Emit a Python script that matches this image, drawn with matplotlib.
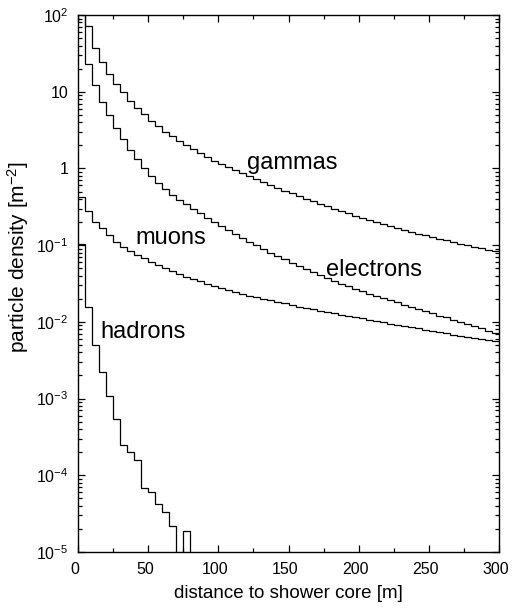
import numpy as np
import matplotlib
matplotlib.use("Agg")
import matplotlib.pyplot as plt
from matplotlib.ticker import LogLocator, MultipleLocator, NullFormatter
from matplotlib.transforms import ScaledTranslation

# ------------------ DATA ------------------

bin_edges = np.arange(0, 301, 5)   # distance to shower core [m]

gammas = [300, 71, 37.2, 24.5, 17.0, 12.6, 9.8, 7.6, 6.2, 5.1,
          4.2, 3.55, 3.0, 2.63, 2.29, 2.0, 1.78, 1.58, 1.41, 1.26,
          1.15, 1.05, 0.955, 0.87, 0.79, 0.72, 0.66, 0.61, 0.556, 0.513,
          0.473, 0.437, 0.403, 0.372, 0.347, 0.32, 0.30, 0.279, 0.26, 0.243,
          0.226, 0.214, 0.20, 0.188, 0.178, 0.168, 0.158, 0.15, 0.141, 0.135,
          0.127, 0.12, 0.115, 0.11, 0.105, 0.10, 0.0955, 0.091, 0.087, 0.083]

electrons = [200, 22.9, 12.4, 7.4, 5.0, 3.4, 2.45, 1.74, 1.32, 1.02,
             0.79, 0.645, 0.537, 0.447, 0.389, 0.339, 0.295, 0.26, 0.229, 0.202,
             0.178, 0.158, 0.14, 0.124, 0.111, 0.10, 0.089, 0.080, 0.0724, 0.0653,
             0.0589, 0.0537, 0.049, 0.0447, 0.0407, 0.0372, 0.0343, 0.0316, 0.0292, 0.0269,
             0.0251, 0.0234, 0.0219, 0.0204, 0.0191, 0.0179, 0.0167, 0.0157, 0.0147, 0.0138,
             0.0129, 0.0121, 0.0114, 0.0107, 0.0100, 0.0094, 0.0088, 0.0082, 0.0077, 0.0072]

muons = [0.427, 0.282, 0.202, 0.166, 0.135, 0.111, 0.0955, 0.0841, 0.0741, 0.0676,
         0.061, 0.055, 0.050, 0.0457, 0.0422, 0.0389, 0.0363, 0.0339, 0.0316, 0.0295,
         0.0275, 0.026, 0.0245, 0.0232, 0.0219, 0.0209, 0.020, 0.0191, 0.0182, 0.0174,
         0.0166, 0.0158, 0.0151, 0.0145, 0.0138, 0.0133, 0.0129, 0.0124, 0.012, 0.0115,
         0.0111, 0.0107, 0.0104, 0.0099, 0.0095, 0.0091, 0.0088, 0.0085, 0.0082, 0.0079,
         0.0076, 0.0073, 0.0071, 0.0068, 0.0066, 0.0064, 0.0062, 0.006, 0.0058, 0.0056]

hadrons = [0.105, 0.0155, 0.005, 0.0022, 0.00108, 0.00054, 0.000248, 0.000204, 0.000158, 6.8e-5,
           6.1e-5, 4.2e-5, 3.35e-5, 2.2e-5, 0, 1.86e-5] + [0] * 44

labels = ["gammas", "electrons", "muons", "hadrons"]
label_x = [152.5, 210.6, 65.9, 46.6]
label_y = [0.98, 0.0395, 0.102, 0.0061]

xticks = [0, 50, 100, 150, 200, 250, 300]
yticks = [1e2, 1e1, 1, 1e-1, 1e-2, 1e-3, 1e-4, 1e-5]
ytick_labels = [r"10$^{2}$", "10", "1", r"10$^{-1}$", r"10$^{-2}$",
                r"10$^{-3}$", r"10$^{-4}$", r"10$^{-5}$"]

# ------------------ STYLE ------------------

plt.rcParams["font.family"] = ["Liberation Sans", "DejaVu Sans"]
plt.rcParams["mathtext.fontset"] = "custom"
plt.rcParams["mathtext.rm"] = "Liberation Sans"
plt.rcParams["mathtext.it"] = "Liberation Sans:italic"
plt.rcParams["mathtext.default"] = "regular"

fig = plt.figure(figsize=(5.14, 6.08), dpi=100)
ax = fig.add_axes([78 / 514, 1 - 552 / 608, 421 / 514, 537 / 608])

# ------------------ CURVES ------------------

for series in (gammas, electrons, muons):
    ax.stairs(series, bin_edges, baseline=None, color="black", lw=0.9)

h = np.array(hadrons, dtype=float)
h = np.where(h > 0, h, 1e-9)   # empty bins drop below the axis
ax.stairs(h, bin_edges, baseline=None, color="black", lw=0.9)

for txt, x, y in zip(labels, label_x, label_y):
    ax.text(x, y, txt, ha="center", va="baseline", fontsize=17)

# ------------------ AXES ------------------

ax.set_yscale("log")
ax.set_xlim(0, 300)
ax.set_ylim(1e-5, 1e2)

ax.set_xticks(xticks)
ax.set_xticklabels([str(t) for t in xticks])
ax.xaxis.set_minor_locator(MultipleLocator(25))
ax.set_yticks(yticks)
ax.set_yticklabels(ytick_labels)
ax.yaxis.set_minor_locator(LogLocator(base=10, subs=np.arange(2, 10), numticks=20))
ax.yaxis.set_minor_formatter(NullFormatter())

ax.tick_params(which="both", direction="in", top=True, right=True,
               labelsize=11.5, pad=7, width=0.9)
ax.tick_params(which="major", length=5)
ax.tick_params(which="minor", length=3)
for sp in ax.spines.values():
    sp.set_linewidth(1.0)

# x tick labels sit a little left of their ticks in the original
shift = ScaledTranslation(-3 / 100, 0, fig.dpi_scale_trans)
for lab in ax.get_xticklabels():
    lab.set_transform(lab.get_transform() + shift)

ax.set_xlabel("distance to shower core [m]", fontsize=13.5, labelpad=6)
ax.set_ylabel(r"particle density [m$^{-2}$]", fontsize=15)
ax.yaxis.set_label_coords(-0.112, 0.55)

fig.savefig("out.png", dpi=100)
